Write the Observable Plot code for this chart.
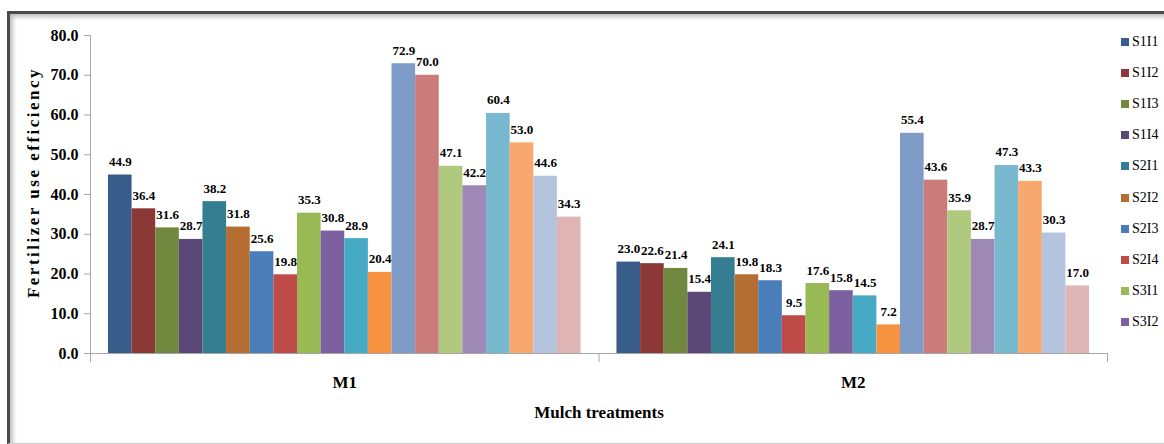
<!DOCTYPE html>
<html>
<head>
<meta charset="utf-8">
<script src="https://cdn.jsdelivr.net/npm/d3@7"></script>
<script src="https://cdn.jsdelivr.net/npm/@observablehq/plot@0.6"></script>
<style>
  html, body { margin: 0; padding: 0; background: #fff; }
  #wrap { position: relative; width: 1164px; height: 444px; overflow: hidden; font-family: "Liberation Serif", "Times New Roman", serif; }
  #border { position: absolute; left: 7px; top: 11px; width: 1200px; height: 429px;
    border-top: 3px solid #4a4a4a; border-left: 3px solid #4a4a4a; border-bottom: 1px solid #cfcfcf;
    box-shadow: inset 3px 3px 4px rgba(0,0,0,0.25); }
  #chart { position: absolute; left: 0; top: 0; }
  #legend { position: absolute; left: 1121px; top: 26px; }
  .item { height: 31.2px; display: flex; align-items: center; font-size: 14px; color: #000; white-space: nowrap; }
  .sw { width: 8px; height: 8px; margin-right: 3px; }
</style>
</head>
<body>
<div id="wrap">
  <div id="border"></div>
  <div id="chart"></div>
  <div id="legend"></div>
</div>
<script>
const groups = ["M1", "M2"];
const series = ["S1I1","S1I2","S1I3","S1I4","S2I1","S2I2","S2I3","S2I4","S3I1","S3I2","S3I3","S3I4","S4I1","S4I2","S4I3","S4I4","S5I1","S5I2","S5I3","S5I4"];
const m1Values = [44.9, 36.4, 31.6, 28.7, 38.2, 31.8, 25.6, 19.8, 35.3, 30.8, 28.9, 20.4, 72.9, 70.0, 47.1, 42.2, 60.4, 53.0, 44.6, 34.3];
const m2Values = [23.0, 22.6, 21.4, 15.4, 24.1, 19.8, 18.3, 9.5, 17.6, 15.8, 14.5, 7.2, 55.4, 43.6, 35.9, 28.7, 47.3, 43.3, 30.3, 17.0];
const colors = ["#385D8A","#8C3836","#71893F","#5C4776","#357D91","#B66D31","#4A7EBB","#BE4B48","#98B954","#7D60A0","#46AAC5","#F69240","#7F9CC9","#CB7C7A","#AFC97F","#9E89B6","#79B9CF","#F8A86E","#B4C4DF","#DEB5B4"];
const yTicks = [0, 10, 20, 30, 40, 50, 60, 70, 80];
const legendShown = series.slice(0, 10);

const data = groups.flatMap((g, gi) => series.map((s, i) => ({group: g, series: s, value: (gi === 0 ? m1Values : m2Values)[i]})));

const W = 1164, H = 444, mt = 35, mb = 91, ml = 90, mr = 57;
const plotH = H - mt - mb;
const axisGray = "#a6a6a6";
const fmt = d => d.toFixed(1);

const chart = Plot.plot({
  width: W, height: H,
  marginLeft: ml, marginRight: mr, marginTop: mt, marginBottom: mb,
  style: {background: "transparent", fontFamily: "'Liberation Serif', 'Times New Roman', serif", color: "#000"},
  fx: {domain: groups, padding: 0, round: false},
  x: {domain: series, paddingInner: 0, paddingOuter: 0.76, round: false, axis: null},
  y: {domain: [0, 80]},
  color: {domain: series, range: colors},
  marks: [
    Plot.barY(data, {fx: "group", x: "series", y: "value", fill: "series"}),
    Plot.text(data, {fx: "group", x: "series", y: "value", text: d => fmt(d.value), dy: -9, lineAnchor: "bottom", fontWeight: "bold", fontSize: 13, fill: "#000"}),
    Plot.ruleY([0], {stroke: axisGray}),
    Plot.frame({anchor: "left", facetAnchor: "left", stroke: axisGray, insetBottom: -8}),
    Plot.frame({anchor: "right", stroke: axisGray, insetTop: plotH, insetBottom: -8}),
    Plot.axisY({ticks: yTicks, tickFormat: fmt, tickSize: 6, tickPadding: 6, stroke: axisGray, fill: "#000", fontSize: 16, fontWeight: "bold",
      label: "Fertilizer use efficiency", labelAnchor: "center", labelArrow: "none", labelOffset: 64}),
    Plot.axisFx({anchor: "bottom", tickSize: 0, tickPadding: 22, fontSize: 17, fontWeight: "bold", fill: "#000",
      label: "Mulch treatments", labelAnchor: "center", labelArrow: "none", labelOffset: 64})
  ]
});
chart.querySelectorAll("[aria-label='y-axis label'] text").forEach(t => {
  t.setAttribute("font-size", "17"); t.setAttribute("font-weight", "bold"); t.setAttribute("letter-spacing", "2.5");
  t.setAttribute("dx", "12");
});
chart.querySelectorAll("[aria-label='fx-axis label'] text").forEach(t => {
  t.setAttribute("font-size", "17"); t.setAttribute("font-weight", "bold");
});
document.getElementById("chart").appendChild(chart);

const legend = document.getElementById("legend");
legendShown.forEach((s) => {
  const i = series.indexOf(s);
  const item = document.createElement("div");
  item.className = "item";
  item.innerHTML = `<div class="sw" style="background:${colors[i]}"></div><span>${s}</span>`;
  legend.appendChild(item);
});
</script>
</body>
</html>
